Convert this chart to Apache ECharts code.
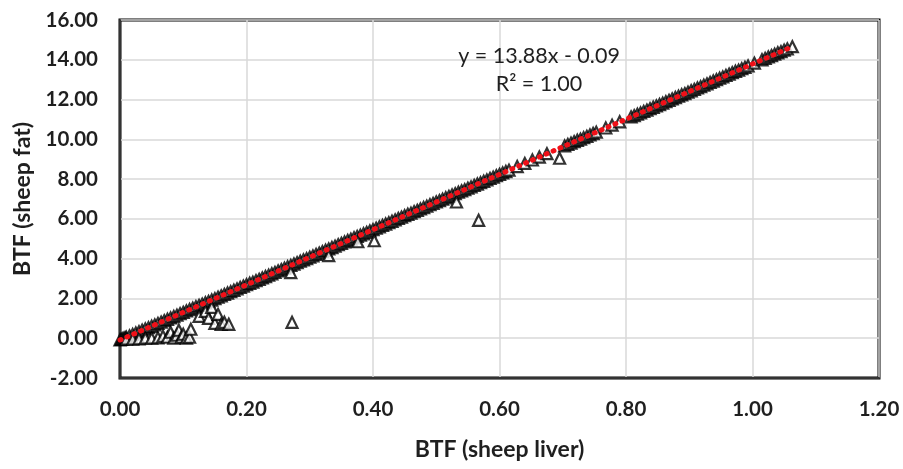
<!DOCTYPE html>
<html><head><meta charset="utf-8">
<script src="https://cdn.jsdelivr.net/npm/echarts@6/dist/echarts.min.js"></script>
<style>html,body{margin:0;padding:0;background:#fff}#c{width:903px;height:469px}</style>
</head><body><div id="c"></div>
<script>
// BTF (sheep liver) values -> x
const liverBTF = [
0.000,0.002,0.004,0.006,0.008,0.010,0.015,0.020,0.025,0.030,0.035,0.040,0.045,0.050,0.055,0.060,0.065,0.070,0.075,0.080,
0.085,0.090,0.095,0.100,0.105,0.110,0.115,0.120,0.125,0.130,0.135,0.140,0.145,0.150,0.155,0.160,0.165,0.170,0.175,0.180,
0.185,0.190,0.195,0.200,0.205,0.210,0.215,0.220,0.225,0.230,0.235,0.240,0.245,0.250,0.255,0.260,0.265,0.270,0.275,0.280,
0.285,0.290,0.295,0.300,0.305,0.310,0.315,0.320,0.325,0.330,0.335,0.340,0.345,0.350,0.355,0.360,0.365,0.370,0.375,0.380,
0.385,0.390,0.395,0.400,0.405,0.410,0.415,0.420,0.425,0.430,0.435,0.440,0.445,0.450,0.455,0.460,0.465,0.470,0.475,0.480,
0.485,0.490,0.495,0.500,0.505,0.510,0.515,0.520,0.525,0.530,0.535,0.540,0.545,0.550,0.555,0.560,0.565,0.570,0.575,0.580,
0.585,0.590,0.595,0.600,0.605,0.610,0.615,0.628,0.640,0.652,0.663,0.675,
0.703,0.708,0.713,0.718,0.723,0.728,0.733,0.738,0.743,0.748,0.753,0.768,0.778,0.790,
0.808,0.813,0.818,0.823,0.828,0.833,0.838,0.843,0.848,0.853,0.858,0.863,0.868,0.873,0.878,0.883,0.888,0.893,0.898,0.903,
0.908,0.913,0.918,0.923,0.928,0.933,0.938,0.943,0.948,0.953,0.958,0.963,0.968,0.973,0.978,0.983,0.988,0.993,1.003,
1.015,1.020,1.025,1.030,1.035,1.040,1.045,1.050,1.055,1.063,
0.010,0.020,0.030,0.040,0.050,0.060,0.068,0.075,0.080,0.085,0.090,0.093,0.097,0.100,0.105,0.110,0.112,
0.125,0.135,0.140,0.145,0.150,0.155,0.160,0.165,0.172,
0.272,0.270,0.330,0.376,0.402,0.532,0.567,0.695
];
// BTF (sheep fat) values -> y
const fatBTF = [
-0.09,-0.06,-0.04,-0.01,0.02,0.05,0.12,0.19,0.26,0.33,0.40,0.47,0.53,0.60,0.67,0.74,0.81,0.88,0.95,1.02,
1.09,1.16,1.23,1.30,1.37,1.44,1.51,1.58,1.65,1.71,1.78,1.85,1.92,1.99,2.06,2.13,2.20,2.27,2.34,2.41,
2.48,2.55,2.62,2.69,2.76,2.82,2.89,2.96,3.03,3.10,3.17,3.24,3.31,3.38,3.45,3.52,3.59,3.66,3.73,3.80,
3.87,3.94,4.00,4.07,4.14,4.21,4.28,4.35,4.42,4.49,4.56,4.63,4.70,4.77,4.84,4.91,4.98,5.05,5.12,5.18,
5.25,5.32,5.39,5.46,5.53,5.60,5.67,5.74,5.81,5.88,5.95,6.02,6.09,6.16,6.23,6.29,6.36,6.43,6.50,6.57,
6.64,6.71,6.78,6.85,6.92,6.99,7.06,7.13,7.20,7.27,7.34,7.41,7.47,7.54,7.61,7.68,7.75,7.82,7.89,7.96,
8.03,8.10,8.17,8.24,8.31,8.38,8.45,8.63,8.79,8.96,9.11,9.28,
9.67,9.74,9.81,9.88,9.95,10.01,10.08,10.15,10.22,10.29,10.36,10.57,10.71,10.88,
11.13,11.19,11.26,11.33,11.40,11.47,11.54,11.61,11.68,11.75,11.82,11.89,11.96,12.03,12.10,12.17,12.24,12.30,12.37,12.44,
12.51,12.58,12.65,12.72,12.79,12.86,12.93,13.00,13.07,13.14,13.21,13.28,13.35,13.42,13.48,13.55,13.62,13.69,13.83,
14.00,14.07,14.14,14.21,14.28,14.35,14.41,14.48,14.55,14.66,
-0.05,-0.05,-0.03,0.00,0.00,0.02,0.10,0.05,0.30,0.00,0.15,0.40,0.05,0.20,0.00,0.05,0.45,
1.10,1.35,1.00,1.55,0.75,1.20,0.70,0.80,0.70,
0.80,3.30,4.15,4.85,4.90,6.85,5.93,9.05
];
// linear trendline endpoints (y = 13.88x - 0.09)
const trendX = [0.0, 1.063];
const trendY = [-0.09, 14.66];
const xTicks = {min: 0, max: 1.2, step: 0.2};
const yTicks = {min: -2, max: 16, step: 2};
const eqText = 'y = 13.88x - 0.09';
const r2Text = 'R² = 1.00';

const pts = liverBTF.map((x, i) => [x, fatBTF[i]]);
const trend = trendX.map((x, i) => [x, trendY[i]]);
const FONT = 'Lato, "Open Sans", sans-serif';
const TXT = '#1f1f1f';
const chart = echarts.init(document.getElementById('c'), null, {renderer: 'canvas'});
chart.setOption({
  animation: false,
  backgroundColor: '#fff',
  grid: {left: 120, right: 24, top: 20, bottom: 91, show: true, borderColor: '#000', borderWidth: 3, backgroundColor: 'transparent'},
  xAxis: {
    type: 'value', min: xTicks.min, max: xTicks.max, interval: xTicks.step,
    name: 'BTF (sheep liver)', nameLocation: 'middle', nameGap: 60,
    nameTextStyle: {fontFamily: FONT, fontWeight: 'bold', fontSize: 23, color: TXT},
    axisLine: {show: true, onZero: false, lineStyle: {color: '#333', width: 2}},
    axisTick: {show: false},
    splitLine: {show: true, lineStyle: {color: '#d9d9d9', width: 1.5}},
    axisLabel: {margin: 21, fontFamily: FONT, fontWeight: 'bold', fontSize: 20.5, color: TXT, formatter: v => v.toFixed(2)}
  },
  yAxis: {
    type: 'value', min: yTicks.min, max: yTicks.max, interval: yTicks.step,
    name: 'BTF (sheep fat)', nameLocation: 'middle', nameGap: 86, nameRotate: 90,
    nameTextStyle: {fontFamily: FONT, fontWeight: 'bold', fontSize: 23, color: TXT},
    axisLine: {show: true, onZero: false, lineStyle: {color: '#333', width: 2}},
    axisTick: {show: false},
    splitLine: {show: true, lineStyle: {color: '#d9d9d9', width: 1.5}},
    axisLabel: {margin: 22, fontFamily: FONT, fontWeight: 'bold', fontSize: 20.5, color: TXT, formatter: v => v.toFixed(2)}
  },
  graphic: [
    {type: 'text', x: 539, y: 56, style: {text: eqText, font: '21.5px ' + FONT, fill: TXT, align: 'center', verticalAlign: 'middle'}, z: 100},
    {type: 'text', x: 539, y: 84, style: {text: r2Text, font: '21.5px ' + FONT, fill: TXT, align: 'center', verticalAlign: 'middle'}, z: 100}
  ],
  series: [
    {type: 'scatter', data: pts, symbol: 'triangle', symbolSize: 11, large: false, progressive: 0,
     itemStyle: {color: '#fff', borderColor: '#000', borderWidth: 2.2}, emphasis: {disabled: true}, z: 2, zlevel: 0},
    {type: 'line', data: trend, symbol: 'none', z: 5, zlevel: 1, silent: true,
     lineStyle: {color: '#f01018', width: 5, type: [1, 6.5], cap: 'round'}}
  ]
});
</script></body></html>
